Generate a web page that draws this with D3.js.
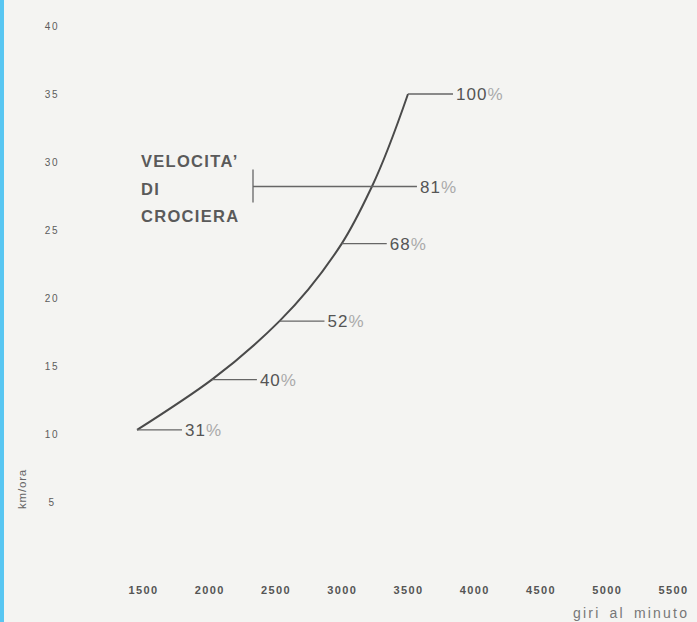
<!DOCTYPE html>
<html>
<head>
<meta charset="utf-8">
<script src="https://cdn.jsdelivr.net/npm/d3@7"></script>
<style>
  html, body { margin: 0; padding: 0; background: #f4f4f2; overflow: hidden; }
  svg { display: block; font-family: "Liberation Sans", Arial, sans-serif; }
</style>
</head>
<body>
<div id="chart"></div>
<script>
// data
const rpm = [1455, 2020, 2530, 3000, 3228, 3500];
const kmh = [10.3, 14.0, 18.3, 24.0, 28.2, 35.0];
const percent = [31, 40, 52, 68, 81, 100];

const xTicks = [1500, 2000, 2500, 3000, 3500, 4000, 4500, 5000, 5500];
const yTicks = [5, 10, 15, 20, 25, 30, 35, 40];
const cruiseLines = ['VELOCITA\u2019', 'DI', 'CROCIERA'];
const cruiseIndex = 4; // the 81% point is the cruising speed

const width = 697, height = 622;

const svg = d3.select('#chart')
  .append('svg')
  .attr('width', width)
  .attr('height', height)
  .attr('viewBox', '0 0 ' + width + ' ' + height);

svg.append('rect')
  .attr('width', width).attr('height', height)
  .attr('fill', '#f4f4f2');

// blue page edge of the scan
svg.append('rect')
  .attr('x', 0).attr('y', 0)
  .attr('width', 4).attr('height', height)
  .attr('fill', '#58c6f2');

// scales
const x = d3.scaleLinear().domain([1500, 5500]).range([143, 673]);
const y = d3.scaleLinear().domain([10, 40]).range([434, 26]);

// y axis (labels only)
const yAxis = svg.append('g')
  .attr('transform', 'translate(52,0)')
  .call(d3.axisLeft(y).tickValues(yTicks).tickSize(0).tickPadding(0));
yAxis.select('.domain').remove();
yAxis.selectAll('text')
  .attr('text-anchor', 'middle')
  .attr('fill', '#5c5c5c')
  .style('font-size', '10px')
  .style('letter-spacing', '1.6px');

// x axis (labels only)
const xAxis = svg.append('g')
  .attr('transform', 'translate(0,586)')
  .call(d3.axisBottom(x).tickValues(xTicks).tickSize(0).tickPadding(0).tickFormat(d3.format('d')));
xAxis.select('.domain').remove();
xAxis.selectAll('text')
  .attr('fill', '#555')
  .style('font-size', '11px')
  .style('font-weight', 'bold')
  .style('letter-spacing', '1.4px');

// axis titles
svg.append('text')
  .attr('transform', 'translate(26,489) rotate(-90)')
  .attr('text-anchor', 'middle')
  .attr('fill', '#666')
  .style('font-size', '11.5px')
  .style('letter-spacing', '0.8px')
  .text('km/ora');

svg.append('text')
  .attr('x', 573).attr('y', 618)
  .attr('fill', '#777')
  .style('font-size', '14px')
  .style('letter-spacing', '2.2px')
  .style('word-spacing', '3px')
  .text('giri al minuto');

// curve
const points = rpm.map((r, i) => ({ rpm: r, kmh: kmh[i], pct: percent[i] }));

const line = d3.line()
  .x(d => x(d.rpm))
  .y(d => y(d.kmh))
  .curve(d3.curveMonotoneY);

svg.append('path')
  .datum(points)
  .attr('d', line)
  .attr('fill', 'none')
  .attr('stroke', '#4a4a4a')
  .attr('stroke-width', 2);

// leader lines and percentage labels
const leader = 45;
const cruiseX = 253;

points.forEach((d, i) => {
  const px = x(d.rpm), py = y(d.kmh);
  const x0 = i === cruiseIndex ? cruiseX : px;
  const x1 = px + leader;
  svg.append('line')
    .attr('x1', x0).attr('x2', x1)
    .attr('y1', py).attr('y2', py)
    .attr('stroke', '#666')
    .attr('stroke-width', 1.3);
  const t = svg.append('text')
    .attr('x', x1 + 3).attr('y', py)
    .attr('dy', '0.36em')
    .style('font-size', '17px')
    .style('letter-spacing', '1px');
  t.append('tspan').attr('fill', '#555').text(d.pct);
  t.append('tspan').attr('fill', '#aaa').text('%');
});

// cruising speed bracket and caption
const cy = y(kmh[cruiseIndex]);
svg.append('line')
  .attr('x1', cruiseX).attr('x2', cruiseX)
  .attr('y1', cy - 17).attr('y2', cy + 16)
  .attr('stroke', '#666')
  .attr('stroke-width', 1.3);

svg.append('g')
  .selectAll('text')
  .data(cruiseLines)
  .enter().append('text')
  .attr('x', 141)
  .attr('y', (d, i) => cy - 19 + i * 27.5)
  .attr('fill', '#5a5a5a')
  .style('font-size', '16.5px')
  .style('font-weight', 'bold')
  .style('letter-spacing', '1.3px')
  .text(d => d);
</script>
</body>
</html>
